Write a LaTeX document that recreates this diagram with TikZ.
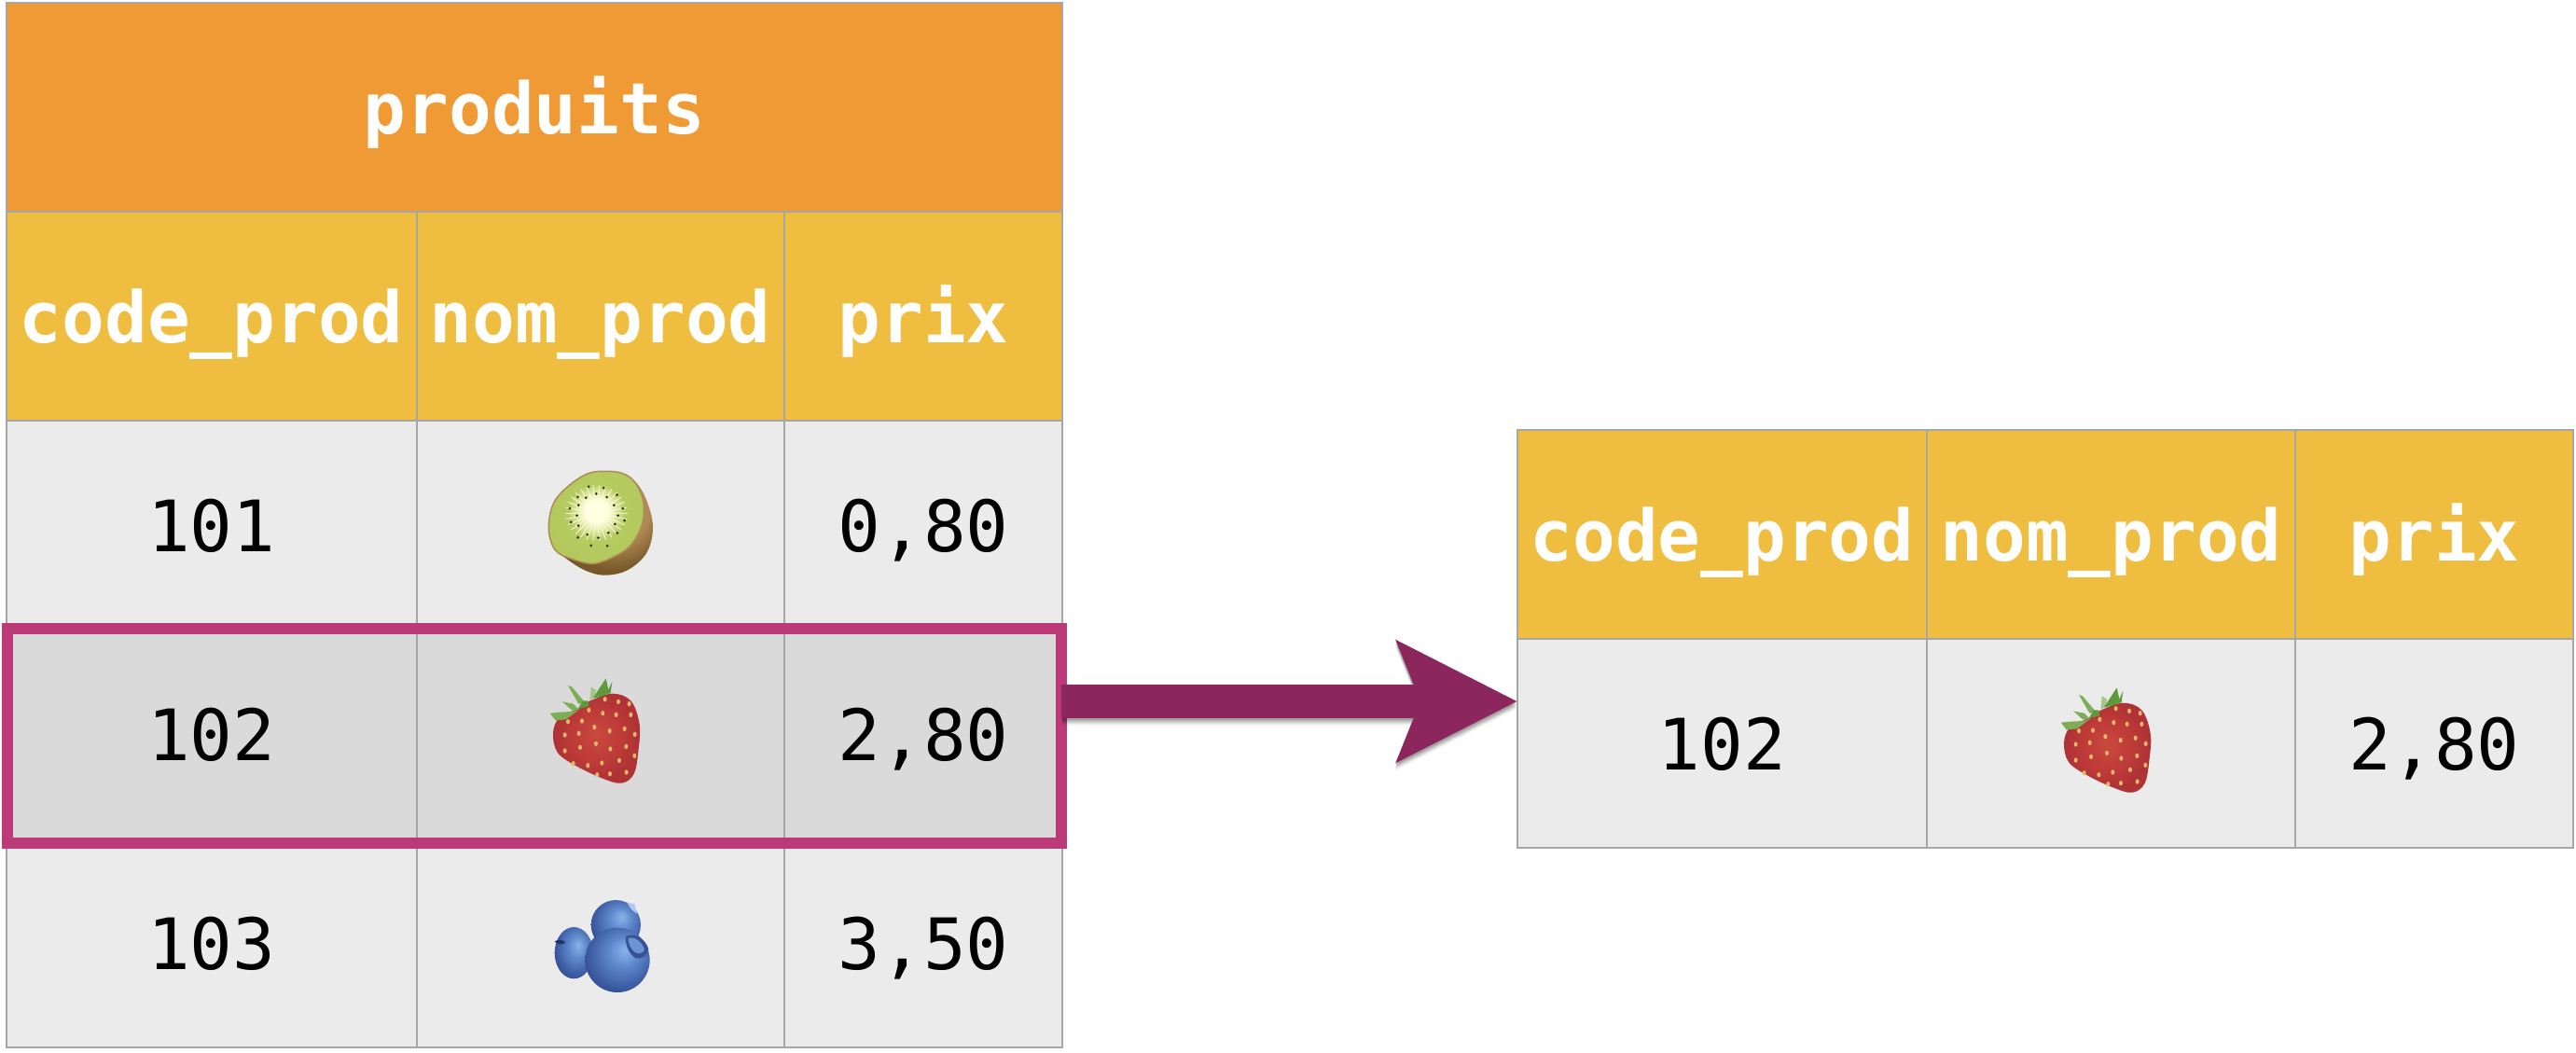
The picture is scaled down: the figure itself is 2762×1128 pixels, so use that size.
\documentclass[tikz,border=0pt]{standalone}
\usepackage{fontspec}
\setmonofont{DejaVu Sans Mono}
\usetikzlibrary{arrows.meta}
\definecolor{cOrange}{HTML}{F09A36}
\definecolor{cYellow}{HTML}{EFBD40}
\definecolor{cCell}{HTML}{EBEBEB}
\definecolor{cHigh}{HTML}{DADADA}
\definecolor{cLine}{HTML}{A6A6A6}
\definecolor{cPink}{HTML}{BA3B78}
\definecolor{cArrow}{HTML}{8B275C}
\definecolor{sbA}{HTML}{C9493F}
\definecolor{sbB}{HTML}{BE3B38}
\definecolor{sbC}{HTML}{AE3236}
\definecolor{sSeed}{HTML}{E3B868}
\definecolor{lfA}{HTML}{7DAE55}
\definecolor{lfB}{HTML}{5C9A3C}
\definecolor{beA}{HTML}{88B4EC}
\definecolor{beB}{HTML}{5D86CA}
\definecolor{beC}{HTML}{3F5FA6}
\definecolor{beD}{HTML}{30498A}
\definecolor{kiA}{HTML}{FFFFE2}
\definecolor{kiB}{HTML}{E2EAA8}
\definecolor{kiC}{HTML}{B5CB60}
\definecolor{kiD}{HTML}{AFC45A}
\definecolor{brA}{HTML}{B08A55}
\definecolor{brB}{HTML}{7A5A2C}
\definecolor{brC}{HTML}{5E4420}
\pgfdeclareradialshading{sbshade}{\pgfpoint{0bp}{2bp}}{color(0bp)=(sbA);color(14bp)=(sbB);color(24bp)=(sbC);color(50bp)=(sbC)}
\pgfdeclareradialshading{beshade}{\pgfpoint{6bp}{8bp}}{color(0bp)=(beA);color(12bp)=(beB);color(24bp)=(beC);color(32bp)=(beD);color(50bp)=(beD)}
\pgfdeclareradialshading{kishade}{\pgfpoint{0bp}{4bp}}{color(0bp)=(kiA);color(6bp)=(kiA);color(10bp)=(kiB);color(15bp)=(kiC);color(50bp)=(kiD)}
\pgfdeclareradialshading{brshade}{\pgfpoint{12bp}{8bp}}{color(0bp)=(brA);color(14bp)=(brA);color(26bp)=(brB);color(50bp)=(brC)}
\newcommand{\tfont}{\ttfamily\fontsize{76}{76}\selectfont}
\tikzset{
  x=1pt,y=-1pt,
  cellbox/.style={draw=cLine,line width=2pt,inner sep=0pt,outer sep=0pt,
    text height=56pt,text depth=0pt,font=\tfont,minimum height=224pt},
  hdr/.style={cellbox,fill=cYellow,text=white,font=\tfont\bfseries},
  ttl/.style={cellbox,fill=cOrange,text=white,font=\tfont\bfseries},
  val/.style={cellbox,fill=cCell,text=black},
  valhi/.style={cellbox,fill=cHigh,text=black},
  wa/.style={minimum width=439.5pt},
  wb/.style={minimum width=394.5pt},
  wc/.style={minimum width=298pt},
  hilite/.style={draw=cPink,line width=11.5pt,inner sep=0pt,outer sep=0pt,minimum width=1130pt,minimum height=230pt},
  bigarrow/.style={line width=36pt,-{Stealth[length=128pt,width=127pt,inset=24pt]}},
  strawb/.pic={
    \begin{scope}[scale=1/3,shift={(-415,-1000)}]
      \shade[shading=sbshade] plot[smooth cycle,tension=0.6] coordinates {(470,882)(530,905)(558,980)(555,1060)(540,1140)(500,1170)(440,1155)(355,1115)(295,1072)(280,1010)(300,960)(360,930)(400,905)};
      \foreach \a/\b in {395/935,440/945,483/950,530/950,447/900,490/908,525/915,328/972,373/970,413/990,462/1002,510/995,543/1013,318/1015,363/1010,418/1043,367/1055,464/1060,515/1052,542/1082,318/1066,345/1107,392/1113,437/1105,493/1097,516/1135,463/1140,422/1143}
        {\fill[sSeed] (\a,\b) ellipse [x radius=6,y radius=8];}
      \fill[lfA] (270,945)--(300,942)--(340,940)--(362,935)--(322,965)--(288,968)--cycle;
      \fill[lfA] (310,908)--(345,915)--(365,935)--(340,935)--cycle;
      \fill[lfA] (328,856)--(340,860)--(378,905)--(385,912)--(362,915)--cycle;
      \fill[lfB] (360,932)--(375,905)--(392,905)--(395,922)--cycle;
      \fill[lfA!70!white] (398,905)--(402,860)--(418,870)--(415,892)--cycle;
      \fill[lfB] (408,897)--(450,833)--(458,870)--(470,843)--(465,880)--(430,892)--cycle;
    \end{scope}
  },
  kiwi/.pic={
    \begin{scope}[scale=1/3,shift={(-432,-335)}]
      \shade[shading=brshade] plot[smooth cycle,tension=0.6] coordinates {(265,345)(290,255)(380,180)(460,168)(530,190)(575,250)(600,345)(580,430)(520,485)(450,502)(390,490)(330,455)(280,410)};
      \shade[shading=kishade,draw=brA,line width=1.5pt] plot[smooth cycle,tension=0.6] coordinates {(265,345)(290,255)(380,180)(460,168)(515,180)(550,215)(570,270)(565,340)(530,405)(480,440)(410,465)(340,450)(285,420)};
      \foreach \ang in {0,12,...,348}{
        \pgfmathsetmacro{\px}{418+45*cos(\ang)}
        \pgfmathsetmacro{\py}{303+40*sin(\ang)}
        \pgfmathsetmacro{\qx}{418+100*cos(\ang)}
        \pgfmathsetmacro{\qy}{303+90*sin(\ang)}
        \draw[kiA,line width=1pt,opacity=.75] (\px,\py)--(\qx,\qy);
      }
      \foreach \ang/\rr in {0/70,10/92,25/66,40/88,55/68,70/104,85/72,100/98,115/68,130/92,150/66,165/84,180/62,195/88,210/66,225/84,240/66,255/96,270/70,285/92,300/68,315/94,330/66,345/88}{
        \pgfmathsetmacro{\qx}{418+\rr*cos(\ang)}
        \pgfmathsetmacro{\qy}{310+\rr*sin(\ang)}
        \fill[black!75!kiD] (\qx,\qy) circle [radius=4.5];
      }
    \end{scope}
  },
  myrtille/.pic={
    \begin{scope}[scale=1/3,shift={(-260,-255)}]
      \shade[shading=beshade] (300,185) circle [radius=80];
      \fill[beA!70!white] (335,112)--(360,118)--(368,150)--(350,135)--cycle;
      \shade[shading=beshade] (165,275) ellipse [x radius=62,y radius=83];
      \fill[beD!70!black] (103,238) .. controls (115,230) and (130,232) .. (138,242) .. controls (125,250) and (112,248) .. (103,238) -- cycle;
      \shade[shading=beshade] (305,298) circle [radius=104];
      \fill[beD!85!beB] (332,222) .. controls (360,208) and (395,230) .. (405,262) .. controls (400,285) and (385,296) .. (365,292) .. controls (345,282) and (330,255) .. (332,222) -- cycle;
      \fill[beB!70!beA] (340,228) .. controls (360,220) and (385,240) .. (392,265) .. controls (385,278) and (372,280) .. (360,272) .. controls (348,262) and (340,248) .. (340,228) -- cycle;
    \end{scope}
  }
}
\begin{document}
\begin{tikzpicture}
\fill[white] (0,0) rectangle (2762,1128);
\useasboundingbox (0,0) rectangle (2762,1128);
% left table
\node[ttl,minimum width=1132pt] (title) at (573,115) {produits};
\node[hdr,wa] (h1) at (226.75,339) {code\_prod};
\node[hdr,wb] (h2) at (643.75,339) {nom\_prod};
\node[hdr,wc] (h3) at (990,339) {prix};
\node[val,wa] (a1) at (226.75,563) {101};
\node[val,wb] (a2) at (643.75,563) {};
\node[val,wc] (a3) at (990,563) {0,80};
\node[val,wa] (c1) at (226.75,1011) {103};
\node[val,wb] (c2) at (643.75,1011) {};
\node[val,wc] (c3) at (990,1011) {3,50};
\node[valhi,wa] (b1) at (226.75,787) {102};
\node[valhi,wb] (b2) at (643.75,787) {};
\node[valhi,wc] (b3) at (990,787) {2,80};
\node[hilite] (hl) at (572.75,789) {};
% right table
\node[hdr,minimum width=439pt] (rh1) at (1846.5,573) {code\_prod};
\node[hdr,minimum width=395pt] (rh2) at (2263.5,573) {nom\_prod};
\node[hdr,minimum width=298pt] (rh3) at (2610,573) {prix};
\node[val,minimum width=439pt] (r1) at (1846.5,797) {102};
\node[val,minimum width=395pt] (r2) at (2263.5,797) {};
\node[val,minimum width=298pt] (r3) at (2610,797) {2,80};
% fruits
\pic at (644,561) {kiwi};
\pic at (638,783) {strawb};
\pic at (2258,793) {strawb};
\pic at (647,1015) {myrtille};
% arrow
\coordinate (astart) at (hl.east |- 0,752);
\coordinate (aend) at (r1.west |- 0,752);
\foreach \o/\w in {8/.03,7/.04,6/.05,5/.06,4/.07,3/.08,2/.09}{
  \draw[bigarrow,draw=black,fill=black,opacity=\w,shorten >=1pt] ([xshift=1pt,yshift=-\o pt]astart) -- ([xshift=1pt,yshift=-\o pt]aend);
}
\draw[bigarrow,draw=cArrow,fill=cArrow,shorten >=0pt] (astart) -- (aend);
\end{tikzpicture}
\end{document}
